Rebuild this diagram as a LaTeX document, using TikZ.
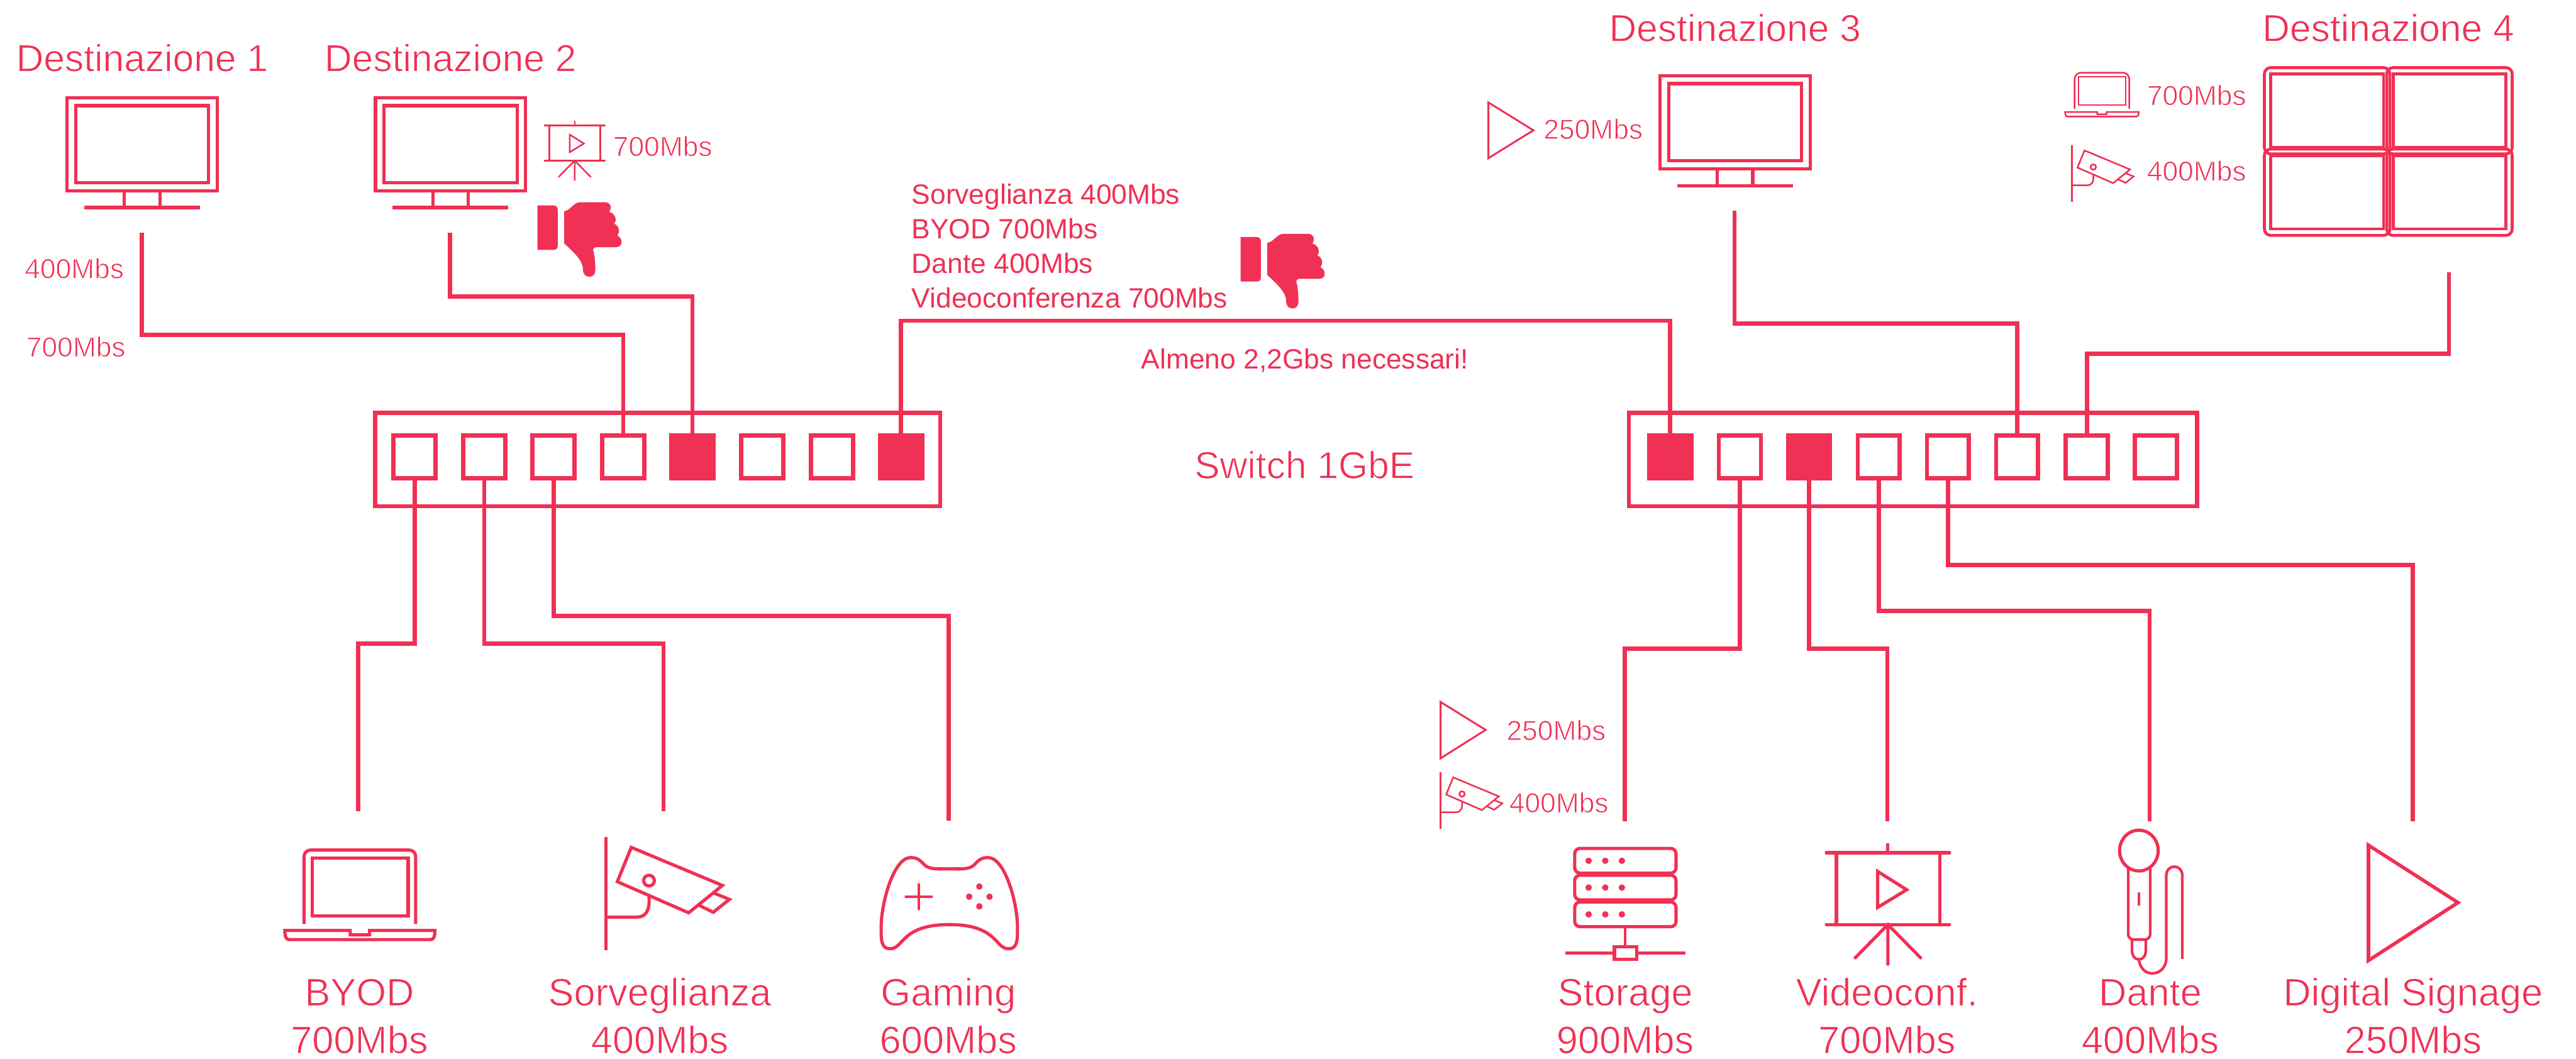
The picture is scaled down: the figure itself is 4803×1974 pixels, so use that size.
\documentclass[tikz,border=0pt]{standalone}
\usepackage{fontspec}
\setmainfont{Liberation Sans}
\definecolor{brand}{HTML}{F03054}
\newcommand{\lightfont}[2]{\fontsize{#1}{#1}\selectfont\special{pdf:code 2 Tr 1 1 1 RG 1.1 w}#2\special{pdf:code 0 Tr}}
\tikzset{
  ink/.style={draw=brand,line width=#1,line join=miter},
  ink/.default=6pt,
  wire/.style={draw=brand,line width=8pt,line join=miter},
  panel/.style={draw=brand,line width=8pt,fill=white,inner sep=0,outer sep=0,rectangle,minimum height=174pt},
  port/.style={draw=brand,line width=8pt,inner sep=0,outer sep=0,minimum width=78.5pt,minimum height=80pt,rectangle},
  portfull/.style={port,fill=brand},
  big/.style={text=brand,inner sep=0,outer sep=0,anchor=base,font=\fontsize{71}{71}\selectfont},
  bigw/.style={big,anchor=base west},
  small/.style={text=brand,inner sep=0,outer sep=0,anchor=base west},
  pics/monitor/.style={code={
    \draw[ink] (-140,3) rectangle (140,177);
    \draw[ink] (-124,18) rectangle (124,162);
    \draw[ink] (-33,177) -- (-33,208) (33,177) -- (33,208);
    \draw[ink] (-108,208) -- (108,208);
  }},
  pics/laptop/.style={code={
    \draw[ink=#1,rounded corners=12pt] (39,141) -- (39,3) -- (247,3) -- (247,141);
    \draw[ink=#1] (54,18) rectangle (233,126);
    \draw[ink=#1,fill=none] (3,153) -- (125,153) -- (125,161) -- (161,161) -- (161,153) -- (283,153) .. controls (283,165) and (280,170) .. (275,170) -- (11,170) .. controls (6,170) and (3,165) .. (3,153) -- cycle;
  }},
  pics/camera/.style={code={
    \draw[ink=#1] (0,0) -- (0,211);
    \draw[ink=#1] (47,19) -- (217,90) -- (154,141) -- (21,83) -- cycle;
    \draw[ink=#1] (198,103) -- (230,116) -- (200,140) -- (171,126);
    \draw[ink=#1] (80,111) .. controls (82,135) and (75,149) .. (58,149) -- (0,149);
    \draw[ink=#1] (80,81) circle (10);
  }},
  pics/projector/.style={code={
    \draw[ink=#1,line cap=round] (-115,18) -- (115,18) (-115,152) -- (115,152);
    \draw[ink=#1] (0,0) -- (0,18) (-96,18) -- (-96,152) (97,18) -- (97,152);
    \draw[ink=#1] (-19,53) -- (-19,120) -- (35,87) -- cycle;
    \draw[ink=#1,line cap=round] (-61,214) -- (0,152) -- (61,214) (0,152) -- (0,226);
  }},
  pics/thumbdown/.style={code={
    \fill[brand] (0,6) -- (30,6) .. controls (36,6) and (38,10) .. (38,16) -- (38,79) .. controls (38,86) and (36,89) .. (30,89) -- (0,89) -- cycle;
    \fill[brand] (50,17) .. controls (62,15) and (68,0) .. (80,0) -- (125,0) .. controls (137,0) and (139,10) .. (134,18)
      .. controls (146,22) and (149,34) .. (143,40) .. controls (152,44) and (155,54) .. (149,62)
      .. controls (160,68) and (160,84) .. (146,84) -- (110,84) .. controls (106,84) and (104,86) .. (104,90)
      .. controls (106,95) and (108,110) .. (108,125) .. controls (108,135) and (104,139) .. (97,139)
      .. controls (90,139) and (85,135) .. (85,125) .. controls (85,110) and (70,95) .. (50,77) -- cycle;
  }}
}
\begin{document}
\begin{tikzpicture}[x=1pt,y=-1pt]
\useasboundingbox (0,0) rectangle (4803,1974);
% switches
\node[panel,minimum width=1054pt] (swa) at (1226,857) {};
\node[panel,minimum width=1059pt] (swb) at (3566.5,857) {};
\foreach \n/\x/\s in {1/773/port,2/903/port,3/1032/port,4/1162/port,5/1291/portfull,6/1421/port,7/1551/port,8/1680/portfull}
  \node[\s] (a\n) at (\x,852) {};
\foreach \n/\x/\s in {1/3114/portfull,2/3244/port,3/3373/portfull,4/3503/port,5/3632/port,6/3761/port,7/3891/port,8/4020/port}
  \node[\s] (b\n) at (\x,852) {};
% connector ends
\coordinate (d1) at (264,434);
\coordinate (d2) at (839,434);
\coordinate (d3) at (3234,393);
\coordinate (d4) at (4566,508);
\coordinate (byod) at (668,1513);
\coordinate (sorv) at (1237,1513);
\coordinate (gaming) at (1769,1530);
\coordinate (stor) at (3029,1531);
\coordinate (vconf) at (3519,1531);
\coordinate (dante) at (4008,1531);
\coordinate (sign) at (4499,1531);
% connectors
\draw[wire] (d1) |- (a4.north |- 0,624) -- (a4.north);
\draw[wire] (d2) |- (a5.north |- 0,553) -- (a5.north);
\draw[wire] (a8.north) |- (b1.north |- 0,598) -- (b1.north);
\draw[wire] (d3) |- (b6.north |- 0,603) -- (b6.north);
\draw[wire] (d4) |- (b7.north |- 0,660) -- (b7.north);
\draw[wire] (a1.south) |- (byod |- 0,1200) -- (byod);
\draw[wire] (a2.south) |- (sorv |- 0,1200) -- (sorv);
\draw[wire] (a3.south) |- (gaming |- 0,1149) -- (gaming);
\draw[wire] (b2.south) |- (stor |- 0,1210) -- (stor);
\draw[wire] (b3.south) |- (vconf |- 0,1210) -- (vconf);
\draw[wire] (b4.south) |- (dante |- 0,1139) -- (dante);
\draw[wire] (b5.south) |- (sign |- 0,1054) -- (sign);
% monitors
\pic at (265,179) {monitor};
\pic at (840,179) {monitor};
\pic at (3235,138) {monitor};
% video wall
\foreach \x/\y in {4219/123,4447/123,4219/275,4447/275}
  \draw[ink=5.5pt,rounded corners=12pt] (\x+3,\y+3) rectangle (\x+237,\y+164);
\foreach \x/\y in {4234/138,4462/138,4234/290,4462/290}
  \draw[ink=5.5pt] (\x,\y) rectangle (\x+210,\y+137);
% small icons
\pic[scale=0.49] at (1071.5,225) {projector=3pt};
\pic[scale=0.49] at (3849,134) {laptop=3pt};
\pic[scale=0.5] at (3863,271) {camera=3pt};
\pic[scale=0.5] at (2686,1440) {camera=3pt};
\draw[ink=3.5pt] (2686,1309) -- (2770,1361) -- (2686,1414) -- cycle;
\draw[ink=3.5pt] (2775,191) -- (2859,243) -- (2775,295) -- cycle;
% thumbs
\pic at (1002,377) {thumbdown};
\pic at (2313,436) {thumbdown};
% large icons
\pic at (528,1582) {laptop=6pt};
\pic at (1130,1561) {camera=6pt};
\pic at (3520,1572) {projector=6pt};
% gamepad
\draw[ink=6pt,line join=round] (1698,1599) .. controls (1712,1599) and (1717,1606) .. (1724,1613) .. controls (1733,1622) and (1752,1620) .. (1770,1620) .. controls (1788,1620) and (1807,1622) .. (1816,1613) .. controls (1823,1606) and (1828,1599) .. (1842,1599) .. controls (1875,1599) and (1899,1690) .. (1897,1735) .. controls (1898,1765) and (1890,1769) .. (1880,1769) .. controls (1855,1769) and (1860,1724) .. (1770,1724) .. controls (1680,1724) and (1685,1769) .. (1660,1769) .. controls (1650,1769) and (1642,1765) .. (1643,1735) .. controls (1641,1690) and (1665,1599) .. (1698,1599) -- cycle;
\draw[ink=5pt,line cap=round] (1689,1672) -- (1737,1672) (1713,1649) -- (1713,1695);
\foreach \x/\y in {1826/1653,1807/1672,1845/1672,1826/1690} \fill[brand] (\x,\y) circle (6);
% storage
\foreach \y in {1579,1629,1679}
  \draw[ink=6pt,rounded corners=10pt] (2936,\y+3) rectangle (3125,\y+49);
\foreach \y in {1605,1655,1705} \foreach \x in {2962,2993,3024} \fill[brand] (\x,\y) circle (6);
\draw[ink=5pt] (3030,1731) -- (3030,1763) (2918,1777) -- (3007,1777) (3055,1777) -- (3142,1777);
\draw[ink=6pt] (3010,1765) rectangle (3052,1789);
% mic
\draw[ink=6pt] (3988,1586) ellipse (36 and 38);
\draw[ink=5pt,rounded corners=10pt] (3968,1618) -- (3968,1752) -- (4009,1752) -- (4009,1618);
\draw[ink=5pt] (3975,1752) -- (3975,1770) .. controls (3975,1782) and (3980,1789) .. (3988,1789) .. controls (3996,1789) and (4001,1782) .. (4001,1770) -- (4001,1752);
\draw[ink=5pt] (3988,1664) -- (3988,1689);
\draw[ink=5pt] (3988,1790) .. controls (3990,1805) and (4000,1815) .. (4013,1815) .. controls (4030,1815) and (4039,1800) .. (4039,1788) -- (4039,1633) .. controls (4039,1622) and (4046,1616) .. (4054,1616) .. controls (4062,1616) and (4069,1622) .. (4069,1633) -- (4069,1788);
% big triangle
\draw[ink=6.5pt] (4416,1576) -- (4583,1683) -- (4416,1791) -- cycle;
% texts
\node[bigw] (t1) at (30,133) {\lightfont{71}{Destinazione 1}};
\node[bigw] (t2) at (605,133) {\lightfont{71}{Destinazione 2}};
\node[bigw] (t3) at (3000,77) {\lightfont{71}{Destinazione 3}};
\node[bigw] (t4) at (4218,77) {\lightfont{71}{Destinazione 4}};
\node[small] (m1) at (1143,291) {\lightfont{52}{700Mbs}};
\node[small] (m2) at (46,519) {\lightfont{52}{400Mbs}};
\node[small] (m3) at (49,665) {\lightfont{52}{700Mbs}};
\node[small] (m4) at (2878,259) {\lightfont{52}{250Mbs}};
\node[small] (m5) at (4003,196) {\lightfont{52}{700Mbs}};
\node[small] (m6) at (4003,337) {\lightfont{52}{400Mbs}};
\node[small] (m7) at (2809,1380) {\lightfont{52}{250Mbs}};
\node[small] (m8) at (2814,1515) {\lightfont{52}{400Mbs}};
\node[small,font=\fontsize{52}{52}\selectfont] (n1) at (1700,381) {Sorveglianza 400Mbs};
\node[small,font=\fontsize{52}{52}\selectfont] (n2) at (1700,445) {BYOD 700Mbs};
\node[small,font=\fontsize{52}{52}\selectfont] (n3) at (1700,509) {Dante 400Mbs};
\node[small,font=\fontsize{52}{52}\selectfont] (n4) at (1700,574) {Videoconferenza 700Mbs};
\node[small,font=\fontsize{52}{52}\selectfont] (n5) at (2128,688) {Almeno 2,2Gbs necessari!};
\node[bigw] (sw) at (2227,892) {\lightfont{71}{Switch 1GbE}};
\foreach \nm/\x/\a/\b in {la/670/BYOD/700Mbs,lb/1230/Sorveglianza/400Mbs,lc/1768/Gaming/600Mbs,ld/3030/Storage/900Mbs,le/3518/Videoconf./700Mbs,lf/4009/Dante/400Mbs,lg/4499/Digital Signage/250Mbs}{
  \node[big] (\nm1) at (\x,1875) {\lightfont{72}{\a}};
  \node[big] (\nm2) at (\x,1964) {\lightfont{72}{\b}};
}
\end{tikzpicture}
\end{document}
